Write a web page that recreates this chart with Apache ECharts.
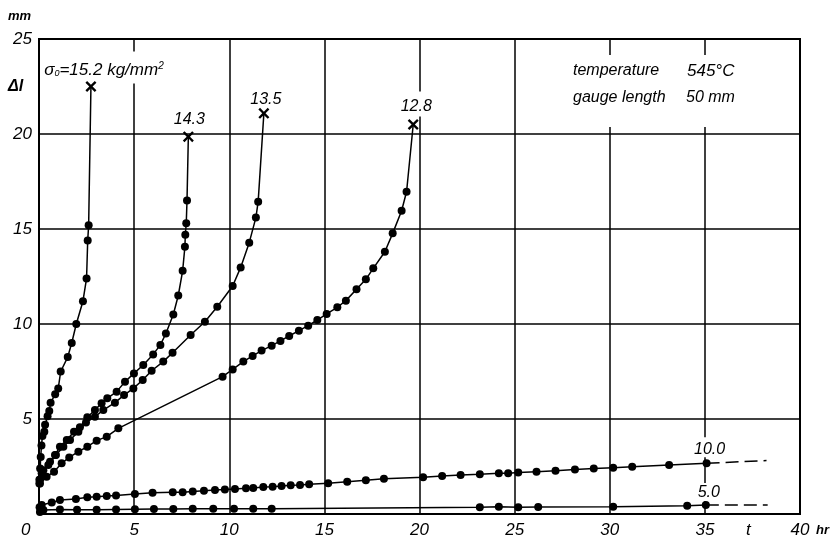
<!DOCTYPE html>
<html><head><meta charset="utf-8">
<script src="https://cdn.jsdelivr.net/npm/echarts@6/dist/echarts.min.js"></script>
<style>html,body{margin:0;padding:0;background:#fff}#c{width:837px;height:540px}</style>
</head><body><div id="c"></div>
<script>
// ---- data ----
const xTicks = [0, 5, 10, 15, 20, 25, 30, 35, 40];
const yTicks = [0, 5, 10, 15, 20, 25];

const dots152 = [[0.02,1.8],[0.06,2.4],[0.09,3.0],[0.13,3.6],[0.18,4.1],[0.28,4.33],[0.32,4.7],[0.45,5.15],[0.54,5.42],[0.61,5.86],[0.85,6.3],[1.01,6.6],[1.14,7.5],[1.51,8.26],[1.72,9.0],[1.96,10.0],[2.31,11.2],[2.5,12.4],[2.56,14.4],[2.61,15.2]];
const end152 = [2.73, 22.5];

const dots143 = [[0.05,1.8],[0.23,2.3],[0.58,2.75],[0.84,3.1],[1.10,3.54],[1.46,3.89],[1.84,4.33],[2.15,4.56],[2.54,5.09],[2.94,5.47],[3.29,5.83],[3.59,6.09],[4.08,6.44],[4.52,6.96],[4.99,7.4],[5.48,7.84],[6.0,8.4],[6.38,8.9],[6.67,9.5],[7.06,10.5],[7.32,11.5],[7.55,12.8],[7.67,14.07],[7.69,14.7],[7.74,15.3],[7.78,16.5]];
const end143 = [7.85, 19.86];

const dots135 = [[0.02,1.6],[0.14,2.14],[0.49,2.58],[0.89,3.1],[1.28,3.54],[1.63,3.89],[2.07,4.33],[2.47,4.81],[2.94,5.12],[3.38,5.47],[3.99,5.86],[4.47,6.26],[4.96,6.61],[5.45,7.05],[5.92,7.54],[6.53,8.02],[7.02,8.49],[7.97,9.42],[8.72,10.12],[9.37,10.91],[10.18,12.0],[10.6,12.98],[11.05,14.28],[11.40,15.6],[11.52,16.44]];
const end135 = [11.82, 21.09];

const dots128 = [[0.05,1.6],[0.4,1.96],[0.79,2.23],[1.19,2.67],[1.59,2.98],[2.07,3.28],[2.54,3.54],[3.03,3.86],[3.56,4.07],[4.17,4.51],[9.65,7.23],[10.18,7.61],[10.74,8.02],[11.23,8.32],[11.70,8.6],[12.23,8.86],[12.69,9.11],[13.15,9.37],[13.66,9.65],[14.15,9.91],[14.63,10.21],[15.12,10.53],[15.68,10.88],[16.13,11.23],[16.69,11.83],[17.18,12.35],[17.57,12.93],[18.18,13.8],[18.59,14.77],[19.06,15.96],[19.32,16.96]];
const end128 = [19.67, 20.5];

const dots100 = [[0.03,0.36],[0.14,0.47],[0.67,0.6],[1.1,0.74],[1.94,0.79],[2.54,0.88],[3.03,0.91],[3.56,0.95],[4.05,0.97],[5.04,1.05],[5.97,1.12],[7.03,1.14],[7.55,1.15],[8.08,1.18],[8.67,1.23],[9.25,1.26],[9.77,1.29],[10.3,1.31],[10.88,1.35],[11.26,1.37],[11.79,1.42],[12.28,1.44],[12.75,1.47],[13.23,1.51],[13.72,1.53],[14.2,1.57],[15.2,1.62],[16.2,1.7],[17.18,1.78],[18.13,1.86],[20.19,1.93],[21.19,2.0],[22.16,2.05],[23.17,2.09],[24.17,2.14],[24.66,2.15],[25.19,2.18],[26.15,2.23],[27.15,2.28],[28.17,2.34],[29.16,2.39],[30.18,2.44],[31.18,2.49],[33.12,2.58],[35.09,2.67]];
const ext100 = [[35.09,2.67],[38.24,2.81]];

const dots50 = [[0.05,0.1],[0.23,0.21],[1.1,0.24],[2.0,0.22],[3.03,0.22],[4.05,0.24],[5.04,0.25],[6.04,0.26],[7.06,0.26],[8.08,0.27],[9.16,0.27],[10.25,0.27],[11.26,0.28],[12.23,0.28],[23.17,0.35],[24.17,0.38],[25.19,0.36],[26.24,0.37],[30.18,0.38],[34.07,0.44],[35.05,0.47]];
const ext50 = [[35.05,0.47],[38.3,0.47]];

const curveLabels = ['σ₀=15.2 kg/mm²', '14.3', '13.5', '12.8', '10.0', '5.0'];
const fracturePoints = [end152, end143, end135, end128];

// ---- chart ----
const FONT = 'Liberation Sans';
const black = '#000';
const xPath = 'path://M0,1.5 L1.5,0 L5,3.5 L8.5,0 L10,1.5 L6.5,5 L10,8.5 L8.5,10 L5,6.5 L1.5,10 L0,8.5 L3.5,5 Z';

function curve(dots, end) {
  const data = dots.map(p => p.slice());
  if (end) data.push({ value: end, symbol: 'none' });
  return {
    type: 'line', data, symbol: 'circle', symbolSize: 8, showSymbol: true,
    lineStyle: { color: black, width: 1.5 }, itemStyle: { color: black, opacity: 1 },
    z: 3, silent: true
  };
}
function dashed(pts) {
  return { type: 'line', data: pts, symbol: 'none', lineStyle: { color: black, width: 1.5, type: [13, 6] }, z: 3, silent: true };
}
const lblBase = { show: true, position: 'top', color: black, opacity: 1, fontFamily: FONT, fontStyle: 'italic', fontSize: 16, lineHeight: 16, backgroundColor: '#fff' };
const lbl = (o) => Object.assign({}, lblBase, o);

const richSigma = {
  a: { color: black, fontFamily: FONT, fontStyle: 'italic', fontSize: 17, lineHeight: 16 },
  s: { color: black, fontFamily: FONT, fontStyle: 'italic', fontSize: 9, lineHeight: 16, verticalAlign: 'bottom', padding: [8, 0, 0, 0] },
  p: { color: black, fontFamily: FONT, fontStyle: 'italic', fontSize: 10, lineHeight: 16, padding: [0, 0, 8, 0] }
};

const labelSeries = {
  type: 'scatter', z: 5, silent: true,
  symbol: 'circle', symbolSize: 0.1, itemStyle: { color: 'rgba(0,0,0,0)', opacity: 1 },
  data: [
    { value: end152, label: lbl({ formatter: '{a|σ}{s|0}{a|=15.2 kg/mm}{p|2}', offset: [13, 2], padding: [11, 2, 5, 2], rich: richSigma }) },
    { value: end143, label: lbl({ formatter: curveLabels[1], offset: [1, -3], padding: [3, 2, 1, 2] }) },
    { value: end135, label: lbl({ formatter: curveLabels[2], offset: [2, 0], padding: [3, 2, 1, 2] }) },
    { value: end128, label: lbl({ formatter: curveLabels[3], offset: [3, -3], padding: [7, 2, 2, 2] }) },
    { value: dots100[dots100.length - 1], label: lbl({ formatter: curveLabels[4], offset: [3, -1], padding: [4, 2, 0, 2] }) },
    { value: dots50[dots50.length - 1], label: lbl({ formatter: curveLabels[5], offset: [3, 1], padding: [2, 2, 0, 2] }) }
  ]
};
const markerSeries = {
  type: 'scatter', z: 6, silent: true,
  symbol: xPath, symbolSize: 11, itemStyle: { color: black, opacity: 1 },
  data: fracturePoints.map(p => p.slice())
};

const axisLbl = { color: black, fontFamily: FONT, fontStyle: 'italic', fontSize: 17 };
const tStyle = (o) => Object.assign({ fill: black, fontFamily: FONT, fontStyle: 'italic' }, o);

const option = {
  animation: false,
  backgroundColor: '#fff',
  grid: { left: 39, right: 37, top: 39, bottom: 26, show: true, borderColor: black, borderWidth: 2, backgroundColor: 'transparent' },
  xAxis: {
    type: 'value', min: xTicks[0], max: xTicks[xTicks.length - 1], interval: 5,
    axisLine: { show: false }, axisTick: { show: false },
    splitLine: { show: true, lineStyle: { color: black, width: 1.5 } },
    axisLabel: Object.assign({}, axisLbl, { margin: 8, formatter: v => (v === 0 ? '' : String(v)) })
  },
  yAxis: {
    type: 'value', min: yTicks[0], max: yTicks[yTicks.length - 1], interval: 5,
    axisLine: { show: false }, axisTick: { show: false },
    splitLine: { show: true, lineStyle: { color: black, width: 1.5 } },
    axisLabel: Object.assign({}, axisLbl, { margin: 7, formatter: v => (v === 0 ? '' : String(v)) })
  },
  series: [
    curve(dots152, end152), curve(dots143, end143), curve(dots135, end135), curve(dots128, end128),
    curve(dots100), dashed(ext100), curve(dots50), dashed(ext50), labelSeries, markerSeries
  ],
  graphic: [
    { type: 'text', left: 8, top: 10, z: 10, style: tStyle({ text: 'mm', fontSize: 13, fontWeight: 'bold' }) },
    { type: 'text', left: 8, top: 79, z: 10, style: tStyle({ text: 'Δl', fontSize: 16, fontWeight: 'bold' }) },
    { type: 'text', left: 21, top: 522, z: 10, style: tStyle({ text: '0', fontSize: 17 }) },
    { type: 'text', left: 746, top: 522, z: 10, style: tStyle({ text: 't', fontSize: 17 }) },
    { type: 'text', left: 816, top: 524, z: 10, style: tStyle({ text: 'hr', fontSize: 13, fontWeight: 'bold' }) },
    { type: 'rect', left: 566, top: 55, z: 10, shape: { width: 182, height: 72 }, style: { fill: '#fff' } },
    { type: 'text', left: 573, top: 63, z: 11, style: tStyle({ text: 'temperature', fontSize: 16 }) },
    { type: 'text', left: 687, top: 63, z: 11, style: tStyle({ text: '545°C', fontSize: 17 }) },
    { type: 'text', left: 573, top: 90, z: 11, style: tStyle({ text: 'gauge length', fontSize: 16 }) },
    { type: 'text', left: 686, top: 90, z: 11, style: tStyle({ text: '50 mm', fontSize: 16 }) }
  ]
};
const chart = echarts.init(document.getElementById('c'), null, { renderer: 'canvas' });
chart.setOption(option);
</script>
</body></html>
